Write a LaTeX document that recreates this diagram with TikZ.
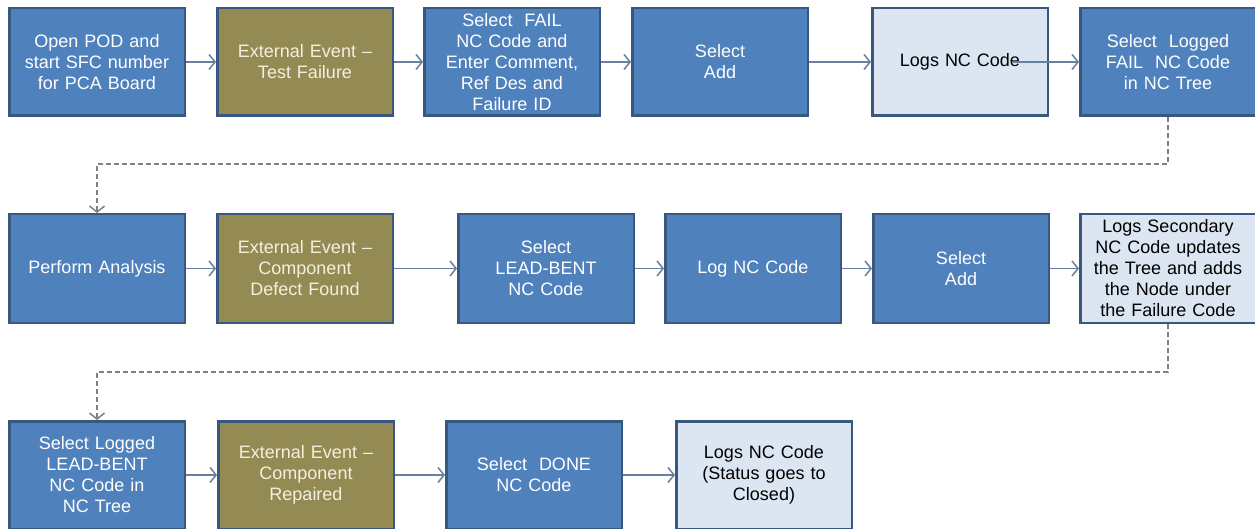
\documentclass[tikz,border=0pt]{standalone}
\usepackage{fontspec}
\setmainfont{Liberation Sans}
\usetikzlibrary{calc,arrows.meta,positioning}

\definecolor{boxblue}{RGB}{79,129,189}
\definecolor{boxedge}{RGB}{56,88,128}
\definecolor{boxolive}{RGB}{148,138,84}
\definecolor{olivetext}{RGB}{244,240,222}
\definecolor{boxlight}{RGB}{220,230,242}
\definecolor{linegrey}{RGB}{104,128,160}
\definecolor{dashgrey}{RGB}{128,128,128}

\begin{document}
\begin{tikzpicture}
[x=1pt, y=1pt,
act/.style={rectangle, fill=boxblue, draw=boxedge, line width=2.5pt, minimum width=175.5pt, minimum height=107.5pt, inner xsep=2pt, inner ysep=1pt, text width=171pt, align=center, text=white, font=\fontsize{18}{21}\selectfont},
ext/.style={act, fill=boxolive, text=olivetext},
res/.style={act, fill=boxlight, text=black},
flow/.style={->, draw=linegrey, line width=1.5pt},
jump/.style={->, draw=dashgrey, line width=1.5pt, dash pattern=on 5pt off 3pt},
>/.tip={Straight Barb[length=6pt, width=15pt]}]

	\useasboundingbox (0,0) rectangle (1255,-529);

	% first row
	\node (opn) at (97,-62) [act]{Open POD and\\start SFC number\\for PCA Board};
	\node (extfail) [right=30pt of opn,ext]{External Event --\\Test Failure};
	\node (selfail) [right=29pt of extfail,act]{Select~~FAIL\\NC Code and\\Enter Comment,\\Ref Des and\\Failure ID};
	\node (seladd) [right=30pt of selfail,act]{Select\\Add};
	\node (logs) [right=62pt of seladd,res]{Logs NC Code};
	\node (sellog) [right=30pt of logs,act]{Select~~Logged\\FAIL~~NC Code\\in NC Tree};

	% second row
	\node (anal) at (97,-268.5) [act, minimum height=108.5pt]{Perform Analysis};
	\node (extdef) [right=30pt of anal,ext, minimum height=108.5pt]{External Event --\\Component\\Defect Found};
	\node (selbent) [right=63pt of extdef,act, minimum height=108.5pt]{Select\\LEAD-BENT\\NC Code};
	\node (lognc) [right=29pt of selbent,act, minimum height=108.5pt]{Log NC Code};
	\node (seladdb) [right=30pt of lognc,act, minimum height=108.5pt]{Select\\Add};
	\node (logsec) [right=29pt of seladdb,res, minimum height=108.5pt]{Logs Secondary\\NC Code updates\\the Tree and adds\\the Node under\\the Failure Code};

	% third row
	\node (selbentlog) at (97,-475) [act]{Select Logged\\LEAD-BENT\\NC Code in\\NC Tree};
	\node (extrep) [right=31pt of selbentlog,ext]{External Event --\\Component\\Repaired};
	\node (seldone) [right=50pt of extrep,act]{Select~~DONE\\NC Code};
	\node (logclose) [right=52pt of seldone,res]{Logs NC Code\\(Status goes to\\Closed)};

	\coordinate (logsin) at ($(logs.east)+(-36,0)$);
	\coordinate (turna) at ($(sellog.south)+(0,-47)$);
	\coordinate (turnb) at ($(logsec.south)+(0,-48)$);

	\draw[flow] (opn) -- (extfail);
	\draw[flow] (extfail) -- (selfail);
	\draw[flow] (selfail) -- (seladd);
	\draw[flow] (seladd) -- (logs);
	\draw[flow] (logsin) -- (sellog);

	\draw[flow] (anal) -- (extdef);
	\draw[flow] (extdef) -- (selbent);
	\draw[flow] (selbent) -- (lognc);
	\draw[flow] (lognc) -- (seladdb);
	\draw[flow] (seladdb) -- (logsec);

	\draw[flow] (selbentlog) -- (extrep);
	\draw[flow] (extrep) -- (seldone);
	\draw[flow] (seldone) -- (logclose);

	\draw[jump] (sellog.south) -- (turna) -| (anal.north);
	\draw[jump] (logsec.south) -- (turnb) -| (selbentlog.north);

\end{tikzpicture}
\end{document}
